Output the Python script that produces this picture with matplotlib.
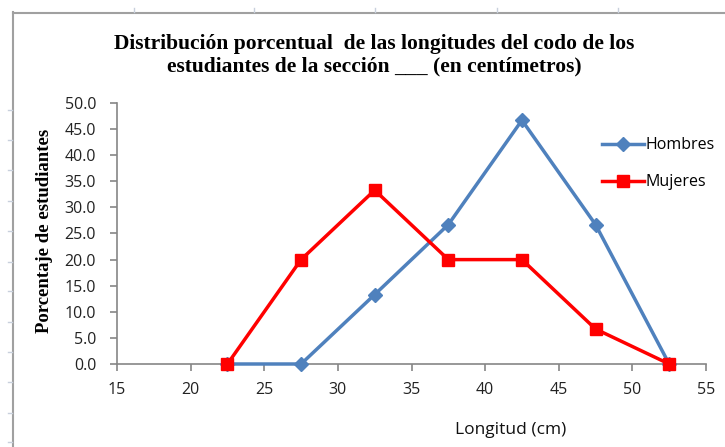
import matplotlib
matplotlib.use("Agg")
import matplotlib.pyplot as plt
from matplotlib.lines import Line2D

# datos
longitud = [22.5, 27.5, 32.5, 37.5, 42.5, 47.5, 52.5]
hombres = [0.0, 0.0, 13.3, 26.7, 46.7, 26.7, 0.0]
mujeres = [0.0, 20.0, 33.3, 20.0, 20.0, 6.7, 0.0]
yticks = [0, 5, 10, 15, 20, 25, 30, 35, 40, 45, 50]
xticks = [15, 20, 25, 30, 35, 40, 45, 50, 55]

W, H = 725, 447
fig = plt.figure(figsize=(W / 100, H / 100), dpi=100)
ax = fig.add_axes([117 / W, 1 - 364 / H, (706 - 117) / W, (364 - 103) / H])

ax.plot(longitud, hombres, '-', color='#4F81BD', linewidth=2.5, marker='D',
        markersize=7, label='Hombres', clip_on=False, zorder=3)
ax.plot(longitud, mujeres, '-', color='#FF0000', linewidth=2.5, marker='s',
        markersize=8, label='Mujeres', clip_on=False, zorder=4)

ax.set_xlim(15, 55)
ax.set_ylim(0, 50)
ax.set_xticks(xticks)
ax.set_yticks(yticks)
ax.set_yticklabels(['%.1f' % v for v in yticks])
for s in ['top', 'right']:
    ax.spines[s].set_visible(False)
for s in ['left', 'bottom']:
    ax.spines[s].set_color('#868686')
    ax.spines[s].set_linewidth(1.2)
ax.tick_params(direction='out', length=5, width=1.2, color='#868686',
               labelsize=11.5, labelcolor='#222222')
ax.tick_params(axis='y', pad=10)
ax.tick_params(axis='x', pad=8)
for lab in ax.get_xticklabels() + ax.get_yticklabels():
    lab.set_family('Open Sans')

# titulo y etiquetas
fig.text(374 / W, 1 - 55 / H,
         'Distribución porcentual  de las longitudes del codo de los\nestudiantes de la sección ___ (en centímetros)',
         ha='center', va='center', family='Liberation Serif', weight='bold',
         fontsize=15.5, linespacing=1.15)
fig.text(45 / W, 1 - 231 / H, 'Porcentaje de estudiantes', rotation=90,
         ha='center', va='center', family='Liberation Serif', weight='bold',
         fontsize=13.5)
fig.text(511 / W, 1 - 430 / H, 'Longitud (cm)', ha='center', va='center',
         family='Open Sans', fontsize=12.5, color='#111111')

fig.legend(loc='upper left', bbox_to_anchor=(588 / W, 1 - 123 / H),
           frameon=False, handlelength=2.6, labelspacing=1.3,
           handletextpad=0.1, prop={'family': 'Open Sans', 'size': 11.5})

# marco de la hoja
fig.add_artist(Line2D([13 / W, 13 / W], [0, 1 - 12 / H], transform=fig.transFigure,
                      color='#A0A0A0', linewidth=1.5))
fig.add_artist(Line2D([13 / W, 1], [1 - 12.5 / H, 1 - 12.5 / H], transform=fig.transFigure,
                      color='#A0A0A0', linewidth=1.5))
for yy in [110, 140, 170, 201, 231, 262, 291, 322, 352, 382, 413, 442]:
    fig.add_artist(Line2D([8 / W, 12 / W], [1 - yy / H, 1 - yy / H],
                          transform=fig.transFigure, color='#C8D0DC', linewidth=1))
for xx in [134, 254, 375, 497, 618]:
    fig.add_artist(Line2D([xx / W, xx / W], [1 - 8 / H, 1 - 12 / H],
                          transform=fig.transFigure, color='#C8D0DC', linewidth=1))

fig.savefig('out.png', dpi=100)
